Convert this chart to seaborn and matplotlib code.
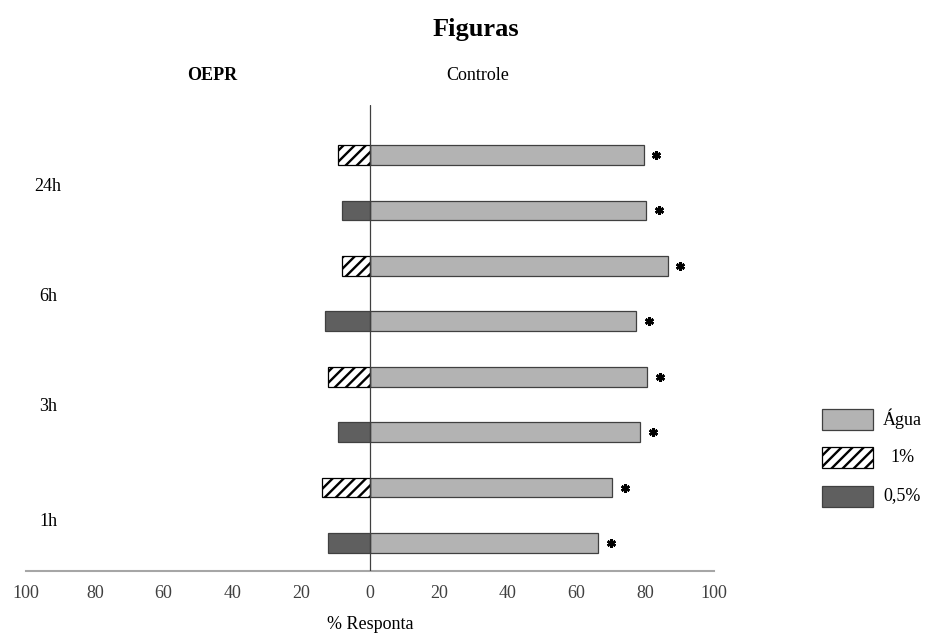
import matplotlib
matplotlib.use("Agg")
import matplotlib.pyplot as plt
from matplotlib.patches import Rectangle
import seaborn as sns
import pandas as pd

# Response (%) per period: upper row of each pair is the 1% extract, lower row the 0,5% extract
tempos = ["24h", "6h", "3h", "1h"]
agua_1 = [79.5, 86.5, 80.5, 70.3]      # Água, row paired with 1%
agua_05 = [80.2, 77.3, 78.5, 66.3]     # Água, row paired with 0,5%
oepr_1 = [9.2, 8.1, 12.2, 14.0]        # OEPR 1%
oepr_05 = [8.1, 13.1, 9.2, 12.2]       # OEPR 0,5%
ticks = [-100, -80, -60, -40, -20, 0, 20, 40, 60, 80, 100]
series = ["Água", "1%", "0,5%"]

rows = []
for t, a1, a05, o1, o05 in zip(tempos, agua_1, agua_05, oepr_1, oepr_05):
    rows.append({"linha": f"{t} 1%", "tempo": t, "conc": "1%", "agua": a1, "oepr": -o1})
    rows.append({"linha": f"{t} 0,5%", "tempo": t, "conc": "0,5%", "agua": a05, "oepr": -o05})
df = pd.DataFrame(rows)
linhas = list(df["linha"])

sns.set_style("white")
plt.rcParams["font.family"] = ["Liberation Serif", "DejaVu Serif"]
plt.rcParams["text.color"] = "black"
plt.rcParams["hatch.linewidth"] = 1.7

fig = plt.figure(figsize=(9.26, 6.37), dpi=100)
ax = fig.add_axes([0.0281, 0.1036, 0.743, 0.7316])

c_agua = "#b3b3b3"
c_05 = "#5f5f5f"
edge = "#404040"
bar_h = 0.355

sns.barplot(data=df, x="agua", y="linha", order=linhas, orient="h", width=bar_h,
            color=c_agua, saturation=1, edgecolor=edge, linewidth=0.9, ax=ax, errorbar=None)
sns.barplot(data=df[df["conc"] == "1%"], x="oepr", y="linha", order=linhas, orient="h",
            width=bar_h, color="white", saturation=1, edgecolor="black", linewidth=0.9,
            hatch="///", ax=ax, errorbar=None)
sns.barplot(data=df[df["conc"] == "0,5%"], x="oepr", y="linha", order=linhas, orient="h",
            width=bar_h, color=c_05, saturation=1, edgecolor=edge, linewidth=0.9,
            ax=ax, errorbar=None)

# significance marks next to each Água bar
ax.plot(df["agua"] + 3.7, range(len(df)), ls="none", marker=(6, 2, 0), ms=6.3,
        mew=1.8, color="black", zorder=4)

ax.axvline(0, color=edge, lw=0.9, zorder=3)

ax.set_xlim(-100, 100)
ax.set_ylim(7.505, -0.902)
ax.set_xticks(ticks)
ax.set_xticklabels([str(abs(v)) for v in ticks], fontsize=13, color="#404040")
ax.tick_params(axis="x", length=0, pad=10)
ax.set_yticks([])
ax.set_ylabel("")
ax.set_xlabel("% Responta", fontsize=13, labelpad=10, color="black")
for s in ["top", "right", "left"]:
    ax.spines[s].set_visible(False)
ax.spines["bottom"].set_color("#a6a6a6")
ax.spines["bottom"].set_linewidth(1.5)

# period labels for each pair of rows
label_y = [0.56, 2.56, 4.54, 6.62]
for t, yl in zip(tempos, label_y):
    ax.text(-93.6, yl, t, fontsize=13, ha="center", va="center")

fig.text(0.514, 0.953, "Figuras", fontsize=19, fontweight="bold", ha="center", va="center")
fig.text(0.2295, 0.882, "OEPR", fontsize=13, fontweight="bold", ha="center", va="center")
fig.text(0.516, 0.882, "Controle", fontsize=13, ha="center", va="center")

# legend drawn as boxes with labels on the right margin
leg_fill = [c_agua, "white", c_05]
leg_edge = [edge, "black", edge]
leg_hatch = [None, "///", None]
leg_y = [419, 457.5, 496]
W, H = 926, 637
for lab, fc, ec, hh, yc in zip(series, leg_fill, leg_edge, leg_hatch, leg_y):
    fig.patches.append(Rectangle((821.7 / W, 1 - (yc + 10.5) / H), 51.6 / W, 21 / H,
                                 facecolor=fc, edgecolor=ec, hatch=hh, lw=0.9,
                                 transform=fig.transFigure, figure=fig))
    fig.text(902 / W, 1 - yc / H, lab, fontsize=13, ha="center", va="center")

fig.savefig("out.png", dpi=100)
